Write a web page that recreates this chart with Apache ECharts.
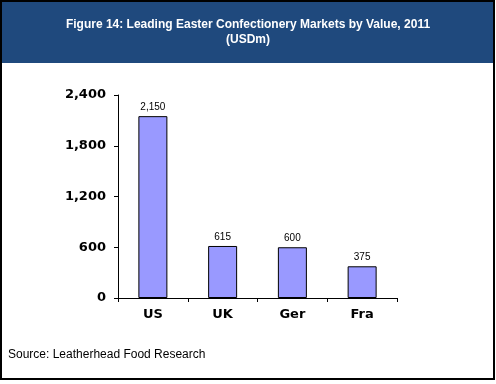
<!DOCTYPE html>
<html><head><meta charset="utf-8">
<script src="https://cdn.jsdelivr.net/npm/echarts@6/dist/echarts.min.js"></script>
<style>html,body{margin:0;padding:0;background:#fff}#c{width:496px;height:384px}</style>
</head><body><div id="c"></div>
<script>
const categories = ['US', 'UK', 'Ger', 'Fra'];
const values = [2150, 615, 600, 375];
const yTicks = [0, 600, 1200, 1800, 2400];
const titleText = 'Figure 14: Leading Easter Confectionery Markets by Value, 2011\n(USDm)';
const sourceText = 'Source: Leatherhead Food Research';

const chart = echarts.init(document.getElementById('c'), null, {renderer: 'canvas'});
const font = '"Liberation Sans", Arial, sans-serif';
const axisFont = '"DejaVu Sans", "Liberation Sans", sans-serif';
chart.setOption({
  animation: false,
  backgroundColor: '#fff',
  graphic: [
    {type: 'rect', shape: {x: 1, y: 1, width: 493, height: 378}, style: {fill: '#fff', stroke: '#000', lineWidth: 2}, z: -10},
    {type: 'rect', shape: {x: 2, y: 2, width: 491, height: 61}, style: {fill: '#1f497d'}, z: -9},
    {type: 'text', x: 248, y: 32, style: {text: titleText, fill: '#fff', font: 'bold 12px ' + font, align: 'center', verticalAlign: 'middle', lineHeight: 15}, z: 5},
    {type: 'text', x: 8, y: 355, style: {text: sourceText, fill: '#000', font: '12px ' + font, verticalAlign: 'middle'}, z: 5}
  ],
  grid: {left: 118, right: 99, top: 95, bottom: 86},
  xAxis: {
    type: 'category', data: categories,
    axisLine: {lineStyle: {color: '#000', width: 1}},
    axisTick: {show: true, alignWithLabel: false, length: 4, lineStyle: {color: '#000'}},
    axisLabel: {color: '#000', fontFamily: axisFont, fontWeight: 'bold', fontSize: 13, margin: 10}
  },
  yAxis: {
    type: 'value', min: yTicks[0], max: yTicks[yTicks.length - 1], interval: 600,
    axisLine: {show: true, lineStyle: {color: '#000', width: 1}},
    axisTick: {show: true, length: 4, lineStyle: {color: '#000'}},
    splitLine: {show: false},
    axisLabel: {color: '#000', fontFamily: axisFont, fontWeight: 'bold', fontSize: 13, margin: 12,
      formatter: v => v.toLocaleString('en-US')}
  },
  series: [{
    type: 'bar', data: values, barWidth: 29,
    itemStyle: {color: '#9999ff', borderColor: '#000', borderWidth: 1},
    label: {show: true, position: 'top', distance: 4, color: '#000', fontFamily: font, fontSize: 10,
      formatter: p => p.value.toLocaleString('en-US')}
  }]
});
</script></body></html>
